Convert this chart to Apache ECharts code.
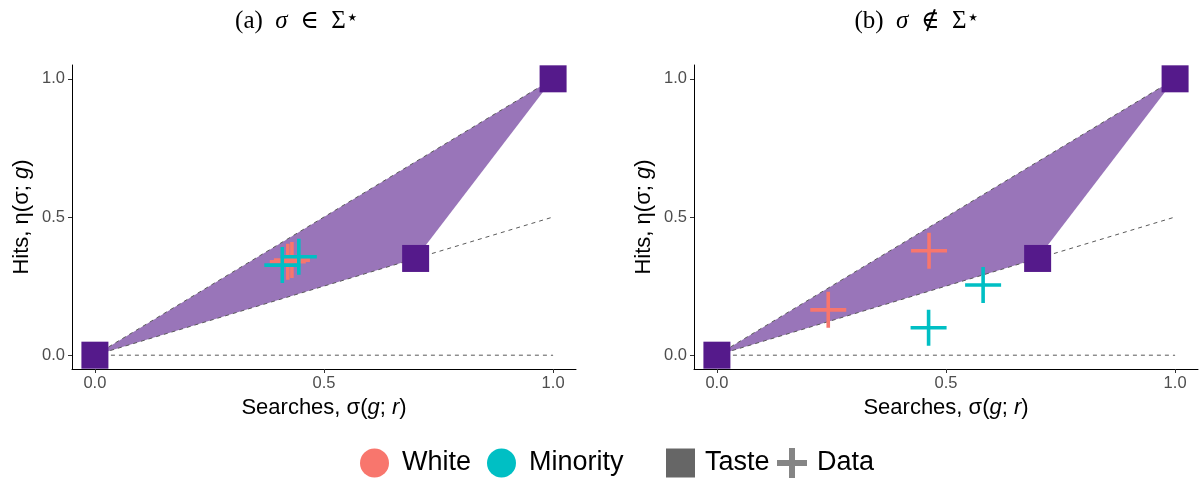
<!DOCTYPE html>
<html>
<head>
<meta charset="utf-8">
<script src="https://cdn.jsdelivr.net/npm/echarts@6/dist/echarts.min.js"></script>
<style>
  html, body { margin: 0; padding: 0; background: #fff; }
  #chart { width: 1201px; height: 485px; }
</style>
</head>
<body>
<div id="chart"></div>
<script>
// Taste vertices (shared by both panels); the shaded region is their triangle
const tastePoints = [[0, 0], [0.7, 0.35], [1, 1]];

// Dashed reference lines: horizontal, half slope, diagonal
const refZero = [[0, 0], [1, 0]];
const refHalf = [[0, 0], [1, 0.5]];
const refDiag = [[0, 0], [1, 1]];

// Observed data, panel (a)
const whiteA = [[0.421, 0.338], [0.430, 0.344]];
const minorityA = [[0.409, 0.326], [0.445, 0.356]];

// Observed data, panel (b)
const whiteB = [[0.243, 0.164], [0.463, 0.378]];
const minorityB = [[0.462, 0.099], [0.581, 0.254]];

// Axis ticks
const tickValues = [0, 0.5, 1];
const tickLabels = ['0.0', '0.5', '1.0'];

const panelTitles = [
  '{n|(a)  }{i|σ}{n|  ∈  Σ}{s|⋆}',
  '{n|(b)  }{i|σ}{n|  ∉  Σ}{s|⋆}'
];

const COL_WHITE = '#F8766D';
const COL_MIN = '#00BFC4';
const COL_TASTE = '#551A8B';
const COL_REGION = '#9975B9';
const COL_LEGEND = '#666666';

const PLUS = 'path://M16.2,0h3.6v16.2h16.2v3.6h-16.2v16.2h-3.6v-16.2h-16.2v-3.6h16.2z';
const PLUS_LEGEND = 'path://M12,0h6v12h12v6h-12v12h-6v-12h-12v-6h12z';

const chart = echarts.init(document.getElementById('chart'), null, { renderer: 'canvas' });

const sans = '"Liberation Sans", Arial, Helvetica, sans-serif';
const serif = '"Liberation Serif", "DejaVu Serif", serif';

const grids = [
  { left: 72, top: 65, width: 504, height: 304 },
  { left: 694, top: 65, width: 504, height: 304 }
];

function labelFor(v) {
  const i = tickValues.findIndex(t => Math.abs(t - v) < 1e-9);
  return i >= 0 ? tickLabels[i] : '';
}

function makeX(gi) {
  return {
    type: 'value', gridIndex: gi, min: -0.05, max: 1.05,
    name: '{n|Searches, σ(}{i|g}{n|; }{i|r}{n|)}',
    nameLocation: 'middle', nameGap: 24,
    nameTextStyle: {
      rich: {
        n: { fontFamily: sans, fontSize: 22, color: '#000' },
        i: { fontFamily: sans, fontSize: 22, color: '#000', fontStyle: 'italic' }
      }
    },
    splitLine: { show: false },
    axisLine: { show: true, onZero: false, lineStyle: { color: '#000', width: 1 } },
    axisTick: { show: true, length: 4, lineStyle: { color: '#333' }, customValues: tickValues },
    axisLabel: {
      color: '#4D4D4D', fontSize: 16.5, fontFamily: sans, margin: 6,
      customValues: tickValues, formatter: labelFor
    }
  };
}

function makeY(gi) {
  return {
    type: 'value', gridIndex: gi, min: -0.05, max: 1.05,
    name: '{n|Hits, η(σ; }{i|g}{n|)}',
    nameLocation: 'middle', nameGap: 39, nameRotate: 90,
    nameTextStyle: {
      rich: {
        n: { fontFamily: sans, fontSize: 22, color: '#000' },
        i: { fontFamily: sans, fontSize: 22, color: '#000', fontStyle: 'italic' }
      }
    },
    splitLine: { show: false },
    axisLine: { show: true, onZero: false, lineStyle: { color: '#000', width: 1 } },
    axisTick: { show: true, length: 4, lineStyle: { color: '#333' }, customValues: tickValues },
    axisLabel: {
      color: '#4D4D4D', fontSize: 16.5, fontFamily: sans, margin: 7,
      customValues: tickValues, formatter: labelFor
    }
  };
}

function regionSeries(gi) {
  return {
    type: 'custom', xAxisIndex: gi, yAxisIndex: gi, z: 1, silent: true,
    data: tastePoints,
    renderItem: function (params, api) {
      if (params.dataIndex !== 0) return null;
      const pts = tastePoints.map(p => api.coord(p));
      return { type: 'polygon', shape: { points: pts }, style: { fill: COL_REGION } };
    }
  };
}

function refSeries(gi, data) {
  return {
    type: 'line', xAxisIndex: gi, yAxisIndex: gi, z: 2, silent: true,
    data: data, symbol: 'none',
    lineStyle: { color: '#5a5a5a', width: 1, type: [4, 4] }
  };
}

function tasteSeries(gi) {
  return {
    name: 'Taste', type: 'scatter', xAxisIndex: gi, yAxisIndex: gi, z: 3,
    data: tastePoints, symbol: 'rect', symbolSize: 27,
    itemStyle: { color: COL_TASTE, opacity: 1 }
  };
}

function crossSeries(gi, name, data, color) {
  return {
    name: name, type: 'scatter', xAxisIndex: gi, yAxisIndex: gi, z: 4,
    data: data, symbol: PLUS, symbolSize: 36,
    itemStyle: { color: color, opacity: 1 }
  };
}

function titleText(x, text) {
  return {
    type: 'text', x: x, y: 21,
    style: {
      text: text, align: 'center', verticalAlign: 'middle',
      rich: {
        n: { fontFamily: serif, fontSize: 25, fill: '#000' },
        i: { fontFamily: serif, fontSize: 25, fill: '#000', fontStyle: 'italic' },
        s: { fontFamily: '"DejaVu Sans", sans-serif', fontSize: 21, fill: '#000', verticalAlign: 'top', lineHeight: 16 }
      }
    }
  };
}

function legendItem(left, name, icon, size, color, gap) {
  return {
    left: left, top: 463 - size / 2, padding: 0,
    selectedMode: false, itemWidth: size, itemHeight: size, icon: icon,
    data: [{ name: name, icon: icon, itemStyle: { color: color, borderWidth: 0 } }],
    textStyle: { fontFamily: sans, fontSize: 27, color: '#000', padding: [0, 0, 0, gap] }
  };
}

chart.setOption({
  animation: false,
  backgroundColor: '#fff',
  grid: grids,
  xAxis: [makeX(0), makeX(1)],
  yAxis: [makeY(0), makeY(1)],
  legend: [
    legendItem(360, 'White', 'circle', 29, COL_WHITE, 8),
    legendItem(487, 'Minority', 'circle', 29, COL_MIN, 8),
    legendItem(666, 'Taste', 'rect', 29, COL_LEGEND, 5),
    legendItem(777, 'Data', PLUS_LEGEND, 30, COL_LEGEND, 5)
  ],
  graphic: [titleText(297, panelTitles[0]), titleText(917, panelTitles[1])],
  series: [
    regionSeries(0), regionSeries(1),
    refSeries(0, refZero), refSeries(0, refHalf), refSeries(0, refDiag),
    refSeries(1, refZero), refSeries(1, refHalf), refSeries(1, refDiag),
    tasteSeries(0), tasteSeries(1),
    crossSeries(0, 'White', whiteA, COL_WHITE),
    crossSeries(0, 'Minority', minorityA, COL_MIN),
    crossSeries(1, 'White', whiteB, COL_WHITE),
    crossSeries(1, 'Minority', minorityB, COL_MIN),
    { name: 'Data', type: 'scatter', xAxisIndex: 0, yAxisIndex: 0, data: [],
      symbol: PLUS_LEGEND, itemStyle: { color: COL_LEGEND } }
  ]
});
</script>
</body>
</html>
